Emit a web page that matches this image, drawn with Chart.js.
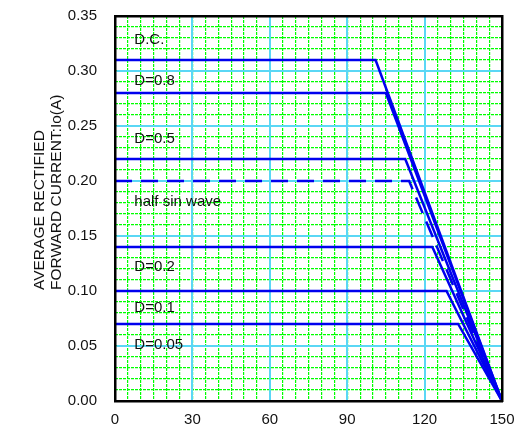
<!DOCTYPE html>
<html lang="en">
<head>
  <meta charset="UTF-8">
  <title>Io derating curves</title>
  <script src="https://cdn.jsdelivr.net/npm/chart.js"></script>
  <style>
    body { margin: 0; background: #fff; }
  </style>
</head>
<body>
<canvas id="myChart" width="517" height="432"></canvas>
<script>
  // curve names, flat current level (A) and the temperature where each one starts to fall
  const seriesNames = ['D.C.', 'D=0.8', 'D=0.5', 'half sin wave', 'D=0.2', 'D=0.1', 'D=0.05'];
  const flatCurrent = [0.31, 0.28, 0.22, 0.20, 0.14, 0.10, 0.07];
  const kneeTemp = [101, 105, 112.5, 114, 123, 128.5, 133];
  const zeroTemp = 150;
  const dashed = [false, false, false, true, false, false, false];
  // where the curve names sit (data units)
  const labelTemp = 7.5;
  const labelCurrent = [0.328, 0.291, 0.238, 0.1806, 0.1215, 0.0843, 0.0506];
  const xTicks = [0, 30, 60, 90, 120, 150];
  const yTicks = [0, 0.05, 0.10, 0.15, 0.20, 0.25, 0.30, 0.35];
  const yTitle = ['AVERAGE RECTIFIED', 'FORWARD CURRENT:Io(A)'];

  const FONT = 'Liberation Sans, Arial, Helvetica, sans-serif';
  const BLUE = '#0000ee';
  const CYAN = '#5ad7f5';
  const GREEN = '#00ff00';

  const datasets = seriesNames.map((name, i) => ({
    label: name,
    data: [
      {x: xTicks[0], y: flatCurrent[i]},
      {x: kneeTemp[i], y: flatCurrent[i]},
      {x: zeroTemp, y: 0}
    ],
    borderColor: BLUE,
    borderWidth: 2.5,
    borderDash: dashed[i] ? [17, 9] : [],
    pointRadius: 0,
    fill: false,
    tension: 0
  }));

  // curve names inside the plot + the two-line y title (both lines start at the same height)
  const textLayer = {
    id: 'textLayer',
    afterDatasetsDraw(chart) {
      const ctx = chart.ctx;
      const xs = chart.scales.x, ys = chart.scales.y;
      ctx.save();
      ctx.font = '15px ' + FONT;
      ctx.fillStyle = '#111';
      ctx.textAlign = 'left';
      ctx.textBaseline = 'middle';
      seriesNames.forEach((name, i) => {
        ctx.fillText(name, xs.getPixelForValue(labelTemp), ys.getPixelForValue(labelCurrent[i]));
      });
      ctx.font = '15.5px ' + FONT;
      ctx.translate(40, chart.chartArea.bottom - 111);
      ctx.rotate(-Math.PI / 2);
      yTitle.forEach((line, i) => ctx.fillText(line, 0, i * 17));
      ctx.restore();
    }
  };

  // axes that only carry a grid or a border line, with a fixed size
  const hidden = (pos, step, size, extra) => Object.assign({
    type: 'linear',
    position: pos,
    ticks: {display: false, stepSize: step},
    grid: {display: false},
    border: {display: false},
    afterFit: s => { if (s.isHorizontal()) s.height = size; else s.width = size; }
  }, extra);

  const ctx = document.getElementById('myChart').getContext('2d');
  new Chart(ctx, {
    type: 'line',
    data: {datasets: datasets},
    plugins: [textLayer],
    options: {
      responsive: false,
      animation: false,
      layout: {padding: 0},
      plugins: {
        legend: {display: false},
        tooltip: {enabled: false}
      },
      scales: {
        x: {
          type: 'linear',
          position: 'bottom',
          min: xTicks[0],
          max: xTicks[xTicks.length - 1],
          ticks: {stepSize: 30, color: '#111', padding: 0, font: {family: FONT, size: 15}},
          grid: {color: CYAN, lineWidth: 2, drawTicks: true, tickLength: 10, tickColor: 'rgba(0,0,0,0)'},
          border: {display: true, color: '#000', width: 2.5, z: 1},
          afterFit: s => { s.height = 31; }
        },
        y: {
          type: 'linear',
          position: 'left',
          min: yTicks[0],
          max: yTicks[yTicks.length - 1],
          ticks: {
            stepSize: 0.05, color: '#111', padding: 0, font: {family: FONT, size: 15},
            callback: v => v.toFixed(2)
          },
          grid: {color: CYAN, lineWidth: 2, drawTicks: true, tickLength: 18, tickColor: 'rgba(0,0,0,0)'},
          border: {display: true, color: '#000', width: 2.5, z: 1},
          afterFit: s => { s.width = 115; }
        },
        xMinor: hidden('bottom', 5, 0, {
          min: xTicks[0], max: xTicks[xTicks.length - 1],
          grid: {display: true, color: GREEN, lineWidth: 1.2, drawTicks: false, z: -2},
          border: {display: false, dash: [3, 1]}
        }),
        yMinor: hidden('left', 0.01, 0, {
          min: yTicks[0], max: yTicks[yTicks.length - 1],
          grid: {display: true, color: GREEN, lineWidth: 1.2, drawTicks: false, z: -2},
          border: {display: false, dash: [3, 1]}
        }),
        xTop: hidden('top', 30, 16, {
          min: xTicks[0], max: xTicks[xTicks.length - 1],
          border: {display: true, color: '#000', width: 2.5, z: 1}
        }),
        yRight: hidden('right', 0.05, 15, {
          min: yTicks[0], max: yTicks[yTicks.length - 1],
          border: {display: true, color: '#000', width: 2.5, z: 1}
        })
      }
    }
  });
</script>
</body>
</html>
